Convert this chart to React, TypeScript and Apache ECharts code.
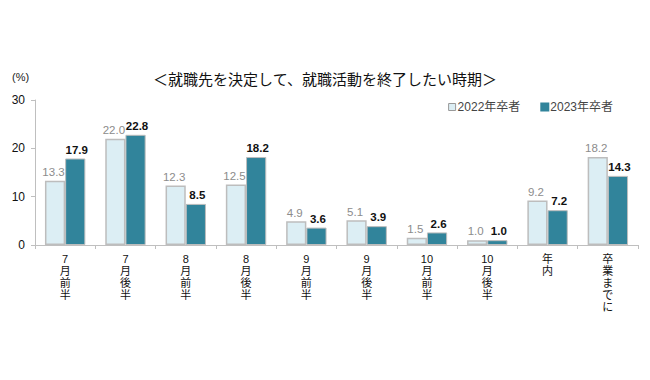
import React, { useEffect, useRef } from "react";
import * as echarts from "echarts";

const categories = [
  "7\n月\n前\n半",
  "7\n月\n後\n半",
  "8\n月\n前\n半",
  "8\n月\n後\n半",
  "9\n月\n前\n半",
  "9\n月\n後\n半",
  "10\n月\n前\n半",
  "10\n月\n後\n半",
  "年\n内",
  "卒\n業\nま\nで\nに",
];
const values2022 = [13.3, 22.0, 12.3, 12.5, 4.9, 5.1, 1.5, 1.0, 9.2, 18.2];
const values2023 = [17.9, 22.8, 8.5, 18.2, 3.6, 3.9, 2.6, 1.0, 7.2, 14.3];
const seriesNames = ["2022年卒者", "2023年卒者"];
const yTicks = [0, 10, 20, 30];

const FONT = "'Liberation Sans', 'Noto Sans CJK JP', sans-serif";

export default function App() {
  const ref = useRef<HTMLDivElement>(null);
  useEffect(() => {
    document.body.style.margin = "0";
    const chart = echarts.init(ref.current!, undefined, { renderer: "svg" });
    chart.setOption({
      animation: false,
      backgroundColor: "#fff",
      textStyle: { fontFamily: FONT },
      title: {
        text: "＜就職先を決定して、就職活動を終了したい時期＞",
        left: "center",
        top: 67,
        textStyle: { fontSize: 15, fontWeight: "normal", color: "#111", fontFamily: FONT },
      },
      graphic: [
        {
          type: "text",
          left: 12,
          top: 71,
          style: { text: "(%)", fontSize: 11, fill: "#222", fontFamily: FONT },
        },
      ],
      legend: {
        right: 32,
        top: 96,
        itemWidth: 7,
        itemHeight: 7,
        itemGap: 20,
        icon: "rect",
        textStyle: { fontSize: 12, color: "#444", fontFamily: FONT, padding: [0, 0, 0, -3] },
        data: [
          { name: seriesNames[0], itemStyle: { color: "#DCEEF4", borderColor: "#999", borderWidth: 1 } },
          { name: seriesNames[1], itemStyle: { color: "#31849B", borderColor: "#31849B" } },
        ],
      },
      grid: { left: 35, right: 12, top: 100, bottom: 135, containLabel: false },
      xAxis: {
        type: "category",
        data: categories,
        axisLine: { lineStyle: { color: "#BFBFBF", width: 1 } },
        axisTick: { show: true, length: 4, lineStyle: { color: "#BFBFBF" } },
        axisLabel: {
          interval: 0,
          fontSize: 11,
          lineHeight: 12,
          color: "#111",
          margin: 8,
          fontFamily: FONT,
        },
      },
      yAxis: {
        type: "value",
        min: yTicks[0],
        max: yTicks[yTicks.length - 1],
        interval: 10,
        splitLine: { show: false },
        axisLine: { show: true, lineStyle: { color: "#BFBFBF" } },
        axisTick: { show: true, length: 4, lineStyle: { color: "#BFBFBF" } },
        axisLabel: { fontSize: 12, color: "#111", margin: 10, fontFamily: FONT },
      },
      series: [
        {
          name: seriesNames[0],
          type: "bar",
          data: values2022,
          barGap: "0%",
          barCategoryGap: "33%",
          itemStyle: { color: "#DCEEF4", borderColor: "#BDBDBD", borderWidth: 1.5 },
          label: {
            show: true,
            position: "top",
            distance: 3,
            offset: [-1.5, 0],
            fontSize: 11.5,
            color: "#8C8C8C",
            formatter: (p: any) => p.value.toFixed(1),
            fontFamily: FONT,
          },
        },
        {
          name: seriesNames[1],
          type: "bar",
          data: values2023,
          itemStyle: { color: "#31849B", borderColor: "#BDBDBD", borderWidth: 1 },
          label: {
            show: true,
            position: "top",
            distance: 3,
            offset: [1.5, 0],
            fontSize: 11.5,
            fontWeight: "bold",
            color: "#111",
            formatter: (p: any) => p.value.toFixed(1),
            fontFamily: FONT,
          },
        },
      ],
    });
    return () => chart.dispose();
  }, []);
  return <div ref={ref} style={{ width: 650, height: 380 }} />;
}
